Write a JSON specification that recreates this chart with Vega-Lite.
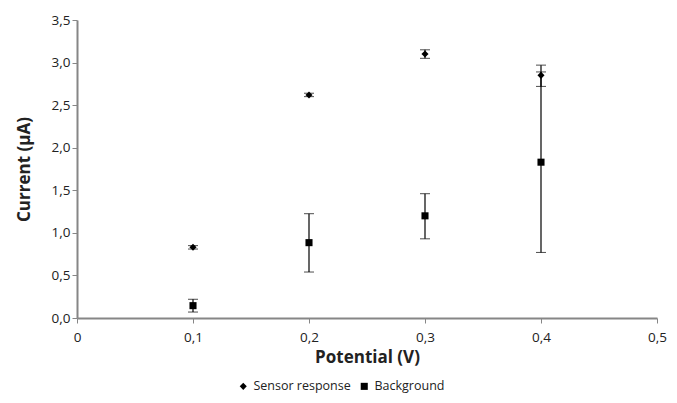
{
  "$schema": "https://vega.github.io/schema/vega-lite/v6.json",
  "width": 580,
  "height": 298,
  "autosize": {"type": "none"},
  "padding": {"left": 77, "top": 20, "right": 20, "bottom": 85},
  "background": "white",
  "config": {
    "font": "Open Sans",
    "view": {"stroke": null},
    "axis": {"grid": false, "domainColor": "#868686", "tickColor": "#868686", "domainWidth": 2, "tickSize": 5, "labelColor": "#222222", "titleColor": "#222222", "labelFont": "Open Sans", "titleFont": "Open Sans", "labelFontSize": 13.5, "titleFontSize": 17, "titleFontWeight": "bold"}
  },
  "data": {
    "values": [
      {"potential": 0.1, "current": 0.83, "lo": 0.81, "hi": 0.85, "series": "Sensor response"},
      {"potential": 0.2, "current": 2.62, "lo": 2.60, "hi": 2.64, "series": "Sensor response"},
      {"potential": 0.3, "current": 3.10, "lo": 3.05, "hi": 3.15, "series": "Sensor response"},
      {"potential": 0.4, "current": 2.85, "lo": 2.72, "hi": 2.97, "series": "Sensor response"},
      {"potential": 0.1, "current": 0.145, "lo": 0.07, "hi": 0.22, "series": "Background"},
      {"potential": 0.2, "current": 0.885, "lo": 0.54, "hi": 1.225, "series": "Background"},
      {"potential": 0.3, "current": 1.20, "lo": 0.93, "hi": 1.46, "series": "Background"},
      {"potential": 0.4, "current": 1.83, "lo": 0.77, "hi": 2.89, "series": "Background"}
    ]
  },
  "layer": [
    {
      "mark": {"type": "errorbar", "ticks": {"size": 10, "color": "#000000", "strokeWidth": 1.2}, "rule": {"color": "#000000", "strokeWidth": 1.2}},
      "encoding": {
        "x": {"field": "potential", "type": "quantitative", "title": "Potential (V)"},
        "y": {"field": "lo", "type": "quantitative", "title": "Current (µA)"},
        "y2": {"field": "hi"}
      }
    },
    {
      "mark": {"type": "point", "filled": true, "opacity": 1, "color": "#000000"},
      "encoding": {
        "x": {
          "field": "potential", "type": "quantitative",
          "scale": {"domain": [0, 0.5], "nice": false},
          "axis": {"values": [0, 0.1, 0.2, 0.3, 0.4, 0.5], "title": "Potential (V)", "labelExpr": "datum.value == 0 ? '0' : replace(format(datum.value, '.1f'), '.', ',')", "labelPadding": 7, "titlePadding": 6, "labelFlush": false}
        },
        "y": {
          "field": "current", "type": "quantitative",
          "scale": {"domain": [0, 3.5], "nice": false},
          "axis": {"values": [0, 0.5, 1, 1.5, 2, 2.5, 3, 3.5], "title": "Current (µA)", "labelExpr": "replace(format(datum.value, '.1f'), '.', ',')", "titlePadding": 18}
        },
        "shape": {
          "field": "series", "type": "nominal",
          "scale": {"domain": ["Sensor response", "Background"], "range": ["diamond", "square"]},
          "legend": {"title": null, "orient": "none", "direction": "horizontal", "legendX": 160, "legendY": 360, "labelFontSize": 12.5, "labelFont": "Open Sans", "labelColor": "#222222", "symbolFillColor": "#000000", "symbolStrokeColor": "#000000", "symbolSize": 50, "columnPadding": 6}
        },
        "size": {"value": 50}
      }
    }
  ]
}
